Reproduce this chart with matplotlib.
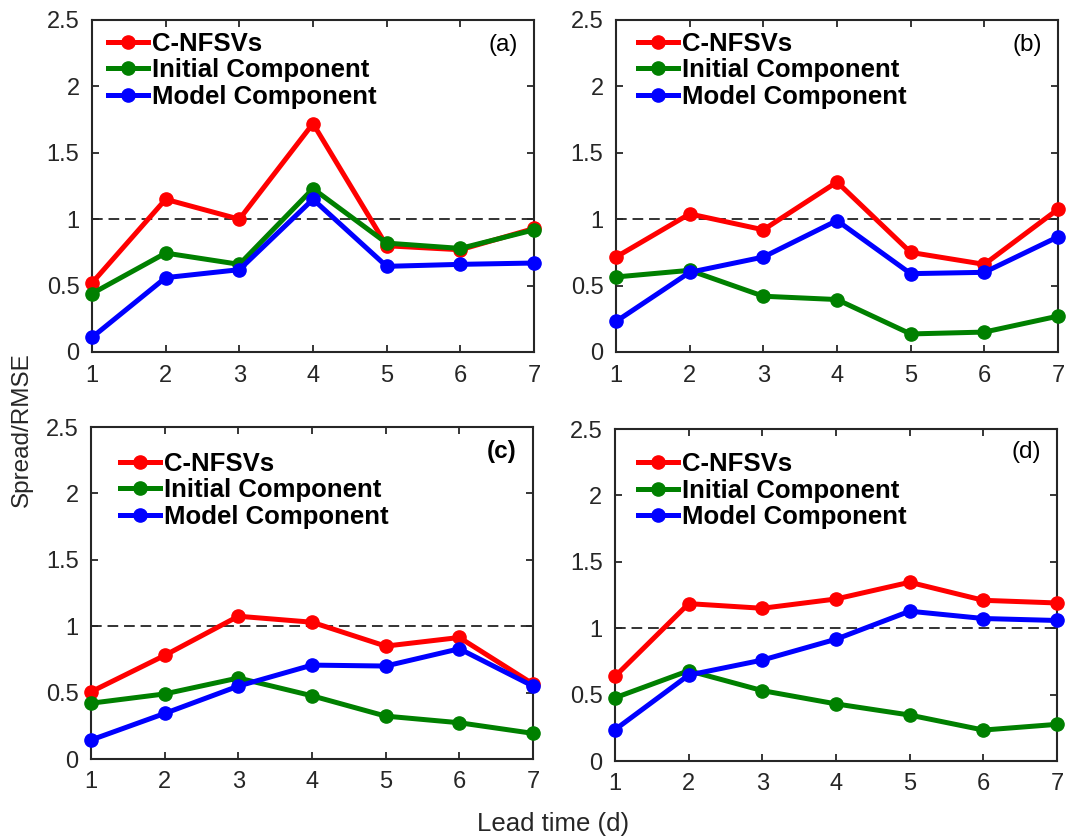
import numpy as np
import matplotlib.pyplot as plt

plt.rcParams['font.family'] = ['Liberation Sans', 'DejaVu Sans']

lead = [1, 2, 3, 4, 5, 6, 7]
labels = ['C-NFSVs', 'Initial Component', 'Model Component']
colors = ['#ff0000', '#008000', '#0000ff']

# panel -> (C-NFSVs, Initial, Model)
a_cnfsv = [0.52, 1.15, 1.00, 1.72, 0.80, 0.77, 0.93]
a_init = [0.44, 0.745, 0.66, 1.23, 0.82, 0.78, 0.92]
a_model = [0.11, 0.56, 0.62, 1.15, 0.645, 0.66, 0.67]

b_cnfsv = [0.715, 1.04, 0.92, 1.28, 0.75, 0.66, 1.075]
b_init = [0.565, 0.615, 0.42, 0.395, 0.136, 0.15, 0.27]
b_model = [0.23, 0.60, 0.715, 0.99, 0.59, 0.60, 0.867]

c_cnfsv = [0.506, 0.78, 1.075, 1.03, 0.85, 0.915, 0.565]
c_init = [0.42, 0.49, 0.61, 0.476, 0.323, 0.273, 0.193]
c_model = [0.143, 0.343, 0.549, 0.707, 0.70, 0.83, 0.549]

d_cnfsv = [0.637, 1.185, 1.15, 1.22, 1.346, 1.21, 1.19]
d_init = [0.476, 0.68, 0.53, 0.43, 0.346, 0.233, 0.276]
d_model = [0.236, 0.647, 0.76, 0.917, 1.128, 1.073, 1.058]

W, H = 1070, 839
fig = plt.figure(figsize=(W/100, H/100), dpi=100)

panels = [
    ('(a)', [a_cnfsv, a_init, a_model], (92, 20), (0.036, 0.965), (0.93, 0.925), 'normal'),
    ('(b)', [b_cnfsv, b_init, b_model], (616, 20), (0.05, 0.965), (0.93, 0.925), 'normal'),
    ('(c)', [c_cnfsv, c_init, c_model], (91, 427), (0.066, 0.925), (0.93, 0.925), 'bold'),
    ('(d)', [d_cnfsv, d_init, d_model], (615, 429), (0.052, 0.93), (0.93, 0.93), 'normal'),
]
aw, ah = 442, 332

for tag, series, (px, py), leg_xy, tag_xy, tag_w in panels:
    ax = fig.add_axes([px/W, 1 - (py + ah)/H, aw/W, ah/H])
    ax.axhline(1.0, color='#333333', lw=1.4, ls=(0, (5.5, 3)), zorder=1)
    for vals, lab, c in zip(series, labels, colors):
        ax.plot(lead, vals, '-o', color=c, lw=3.6, ms=9.5, label=lab,
                clip_on=False, zorder=3)
    ax.set_xlim(1, 7); ax.set_ylim(0, 2.5)
    ax.set_xticks(lead)
    ax.set_yticks([0, 0.5, 1, 1.5, 2, 2.5])
    ax.set_yticklabels(['0', '0.5', '1', '1.5', '2', '2.5'])
    ax.tick_params(direction='in', top=True, right=True, length=5, width=1.3,
                   labelsize=17, colors='#262626', pad=9)
    for s in ax.spines.values():
        s.set_linewidth(1.5); s.set_color('#262626')
    ax.legend(loc='upper left', bbox_to_anchor=leg_xy, frameon=False, borderpad=0,
              borderaxespad=0, handlelength=1.55, handletextpad=0.15, labelspacing=0.1,
              prop={'weight': 'bold', 'size': 18.5})
    ax.text(tag_xy[0], tag_xy[1], tag, transform=ax.transAxes, fontsize=17.5,
            fontweight=tag_w, ha='center', va='center')

fig.text(22/W, 1 - 430/H, 'Spread/RMSE', rotation=90, fontsize=17.5, ha='center',
         va='center', color='#262626')
fig.text(553/W, 1 - 824/H, 'Lead time (d)', fontsize=18.5, ha='center', va='center',
         color='#262626')

fig.savefig('out.png', dpi=100)
